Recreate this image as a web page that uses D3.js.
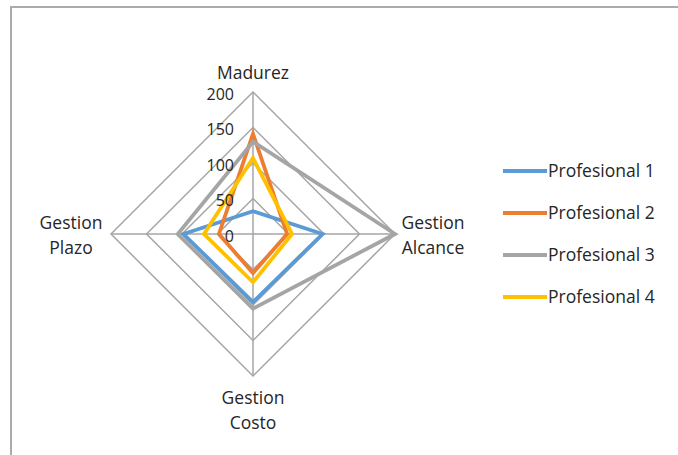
<!DOCTYPE html>
<html>
<head>
<meta charset="utf-8">
<script src="https://cdn.jsdelivr.net/npm/d3@7"></script>
<style>
  body { margin: 0; background: #fff; }
  svg text { font-family: "Open Sans", Lato, sans-serif; fill: #262626; }
</style>
</head>
<body>
<div id="vis"></div>
<script>
const axes = [["Madurez"], ["Gestion", "Alcance"], ["Gestion", "Costo"], ["Gestion", "Plazo"]];
const seriesNames = ["Profesional 1", "Profesional 2", "Profesional 3", "Profesional 4"];
const prof1 = [32, 98, 96, 98];
const prof2 = [141, 48, 55, 48];
const prof3 = [130, 200, 105, 106];
const prof4 = [107, 55, 68, 69];
const tickValues = [0, 50, 100, 150, 200];
const colors = ["#5b9bd5", "#ed7d31", "#a5a5a5", "#ffc000"];

const width = 678, height = 455;
const cx = 253, cy = 234;

const svg = d3.select('#vis').append('svg')
  .attr('width', width)
  .attr('height', height);

// chart border (runs off the right and bottom edge)
svg.append('rect')
  .attr('x', 11).attr('y', 7)
  .attr('width', 700).attr('height', 480)
  .attr('fill', 'none')
  .attr('stroke', '#ababab')
  .attr('stroke-width', 2);

const g = svg.append('g')
  .attr('transform', 'translate(' + cx + ',' + cy + ')');

const rScale = d3.scaleLinear().domain([0, 200]).range([0, 142]);
const angle = d3.scaleLinear().domain([0, axes.length]).range([-Math.PI / 2, 1.5 * Math.PI]);

const px = (v, i) => rScale(v) * Math.cos(angle(i));
const py = (v, i) => rScale(v) * Math.sin(angle(i));

const ring = d3.line()
  .x(d => d[0]).y(d => d[1])
  .curve(d3.curveLinearClosed);

// grid rings
g.selectAll('path.grid')
  .data(tickValues.slice(1))
  .enter()
  .append('path')
  .attr('class', 'grid')
  .attr('d', t => ring(axes.map((a, i) => [px(t, i), py(t, i)])))
  .attr('fill', 'none')
  .attr('stroke', '#a6a6a6')
  .attr('stroke-width', 1.5);

// spokes
g.selectAll('line.spoke')
  .data(axes)
  .enter()
  .append('line')
  .attr('class', 'spoke')
  .attr('x1', 0).attr('y1', 0)
  .attr('x2', (d, i) => px(200, i))
  .attr('y2', (d, i) => py(200, i))
  .attr('stroke', '#a6a6a6')
  .attr('stroke-width', 1.5);

// series
const allSeries = [prof1, prof2, prof3, prof4];
g.selectAll('path.series')
  .data(allSeries)
  .enter()
  .append('path')
  .attr('class', 'series')
  .attr('d', s => ring(s.map((v, i) => [px(v, i), py(v, i)])))
  .attr('fill', 'none')
  .attr('stroke', (d, i) => colors[i])
  .attr('stroke-width', 3.8)
  .attr('stroke-linejoin', 'miter');

// tick labels along the top axis
g.selectAll('text.tick')
  .data(tickValues)
  .enter()
  .append('text')
  .attr('class', 'tick')
  .attr('x', -19)
  .attr('y', t => -rScale(t) + 2)
  .attr('dy', '0.35em')
  .attr('text-anchor', 'end')
  .style('font-size', '16px')
  .text(t => t);

// axis labels
const labelPos = [
  {x: 0, y: -161},
  {x: 180, y: -11},
  {x: 0, y: 164},
  {x: -182, y: -11}
];
axes.forEach((lines, i) => {
  const t = g.append('text')
    .attr('text-anchor', 'middle')
    .style('font-size', '17.5px');
  lines.forEach((ln, j) => {
    t.append('tspan')
      .attr('x', labelPos[i].x)
      .attr('y', labelPos[i].y + j * 25)
      .attr('dy', '0.35em')
      .text(ln);
  });
});

// legend
const legend = svg.selectAll('g.legend')
  .data(seriesNames)
  .enter()
  .append('g')
  .attr('class', 'legend')
  .attr('transform', (d, i) => 'translate(503,' + (171 + i * 42) + ')');

legend.append('line')
  .attr('x1', 0).attr('x2', 44)
  .attr('y1', 0).attr('y2', 0)
  .attr('stroke', (d, i) => colors[i])
  .attr('stroke-width', 4);

legend.append('text')
  .attr('x', 45)
  .attr('y', 0)
  .attr('dy', '0.35em')
  .style('font-size', '17.5px')
  .text(d => d);
</script>
</body>
</html>
